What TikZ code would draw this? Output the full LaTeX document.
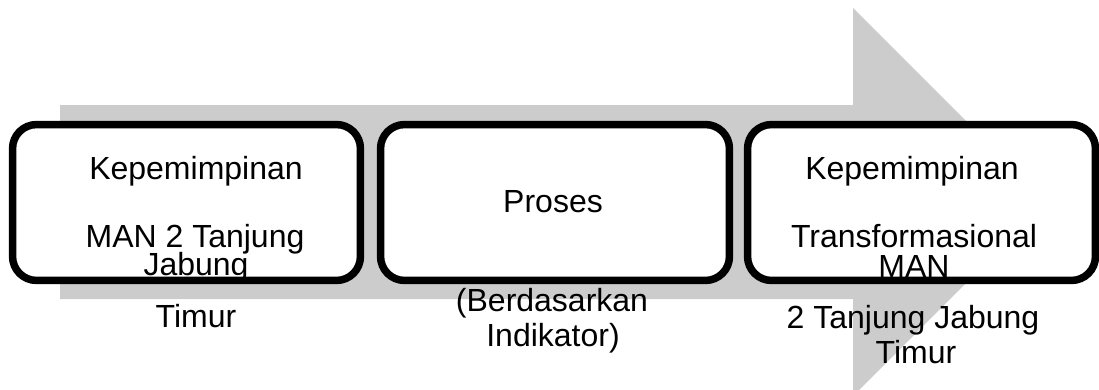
\documentclass[tikz,border=0pt]{standalone}
\usepackage{fontspec}
\setmainfont{Liberation Sans}
\usetikzlibrary{shadows}
\definecolor{arrowgray}{RGB}{204,204,204}
\begin{document}
\begin{tikzpicture}[x=1pt,y=-1pt,
  boxfill/.style={rectangle, draw=none, fill=white, rounded corners=24pt, inner sep=0pt,
    minimum height=155.5pt,
    drop shadow={opacity=0.3, shadow xshift=0pt, shadow yshift=-3pt}},
  boxline/.style={draw=black, line width=7.5pt, rounded corners=24pt},
  lbl/.style={font=\fontsize{32}{32}\selectfont, anchor=base, inner sep=0pt}]
\useasboundingbox (0,0) rectangle (1099,389);
\clip (0,0) rectangle (1099,389);
% background arrow
\fill[arrowgray] (60,105) -- (853,105) -- (853,8) -- (1047,202) -- (853,396) -- (853,299) -- (60,299) -- cycle;
% box fills
\node[boxfill, minimum width=347.5pt] (b1) at (186.5,202.5) {};
\node[boxfill, minimum width=348.5pt] (b2) at (555,202.5) {};
\node[boxfill, minimum width=347.5pt] (b3) at (921.5,202.5) {};
% texts
\node[lbl] (t1a) at (196,179) {Kepemimpinan};
\node[lbl] (t1b) at (195,247) {MAN 2 Tanjung};
\node[lbl] (t1c) at (196,275) {Jabung};
\node[lbl] (t1d) at (196,327) {Timur};
\node[lbl] (t2a) at (553,212) {Proses};
\node[lbl] (t2b) at (552,311) {(Berdasarkan};
\node[lbl] (t2c) at (553,346) {Indikator)};
\node[lbl] (t3a) at (912,179) {Kepemimpinan};
\node[lbl] (t3b) at (914,247) {Transformasional};
\node[lbl] (t3c) at (914,277) {MAN};
\node[lbl] (t3d) at (913,328) {2 Tanjung Jabung};
\node[lbl] (t3e) at (916,363) {Timur};
% box borders
\foreach \b in {b1,b2,b3}
  \draw[boxline] (\b.south west) rectangle (\b.north east);
\end{tikzpicture}
\end{document}
